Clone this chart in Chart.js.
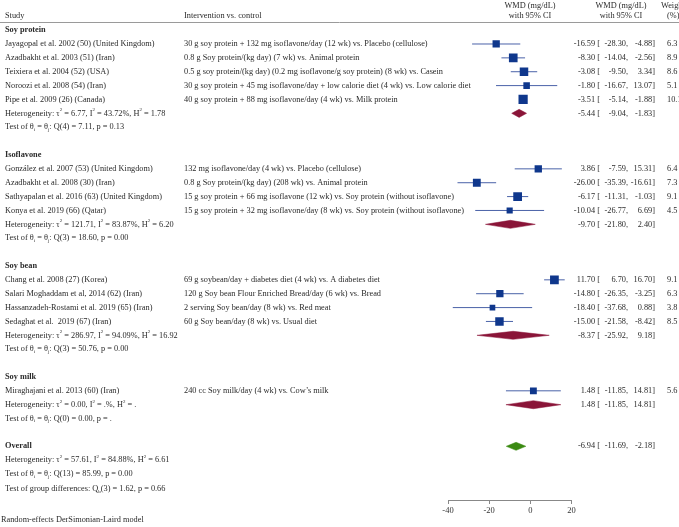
<!DOCTYPE html>
<html><head><meta charset="utf-8">
<script src="https://cdn.jsdelivr.net/npm/chart.js@4"></script>
<style>html,body{margin:0;padding:0;background:#fff}canvas{display:block}</style>
</head><body><canvas id="c" width="679" height="527"></canvas>
<script>
// ---------------- data ----------------
const groups = ['Soy protein', 'Isoflavone', 'Soy bean', 'Soy milk'];
const studyNames = [
  'Jayagopal et al. 2002 (50) (United Kingdom)',
  'Azadbakht et al. 2003 (51) (Iran)',
  'Teixiera et al. 2004 (52) (USA)',
  'Noroozi et al. 2008 (54) (Iran)',
  'Pipe et al. 2009 (26) (Canada)',
  'González et al. 2007 (53) (United Kingdom)',
  'Azadbakht et al. 2008 (30) (Iran)',
  'Sathyapalan et al. 2016 (63) (United Kingdom)',
  'Konya et al. 2019 (66) (Qatar)',
  'Chang et al. 2008 (27) (Korea)',
  'Salari Moghaddam et al, 2014 (62) (Iran)',
  'Hassanzadeh-Rostami et al. 2019 (65) (Iran)',
  'Sedaghat et al.  2019 (67) (Iran)',
  'Miraghajani et al. 2013 (60) (Iran)'
];
const studyGroup = [0,0,0,0,0, 1,1,1,1, 2,2,2,2, 3];
const interventions = [
  '30 g soy protein + 132 mg isoflavone/day (12 wk) vs. Placebo (cellulose)',
  '0.8 g Soy protein/(kg day) (7 wk) vs. Animal protein',
  '0.5 g soy protein/(kg day) (0.2 mg isoflavone/g soy protein) (8 wk) vs. Casein',
  '30 g soy protein + 45 mg isoflavone/day + low calorie diet (4 wk) vs. Low calorie diet',
  '40 g soy protein + 88 mg isoflavone/day (4 wk) vs. Milk protein',
  '132 mg isoflavone/day (4 wk) vs. Placebo (cellulose)',
  '0.8 g Soy protein/(kg day) (208 wk) vs. Animal protein',
  '15 g soy protein + 66 mg isoflavone (12 wk) vs. Soy protein (without isoflavone)',
  '15 g soy protein + 32 mg isoflavone/day (8 wk) vs. Soy protein (without isoflavone)',
  '69 g soybean/day + diabetes diet (4 wk) vs. A diabetes diet',
  '120 g Soy bean Flour Enriched Bread/day (6 wk) vs. Bread',
  '2 serving Soy bean/day (8 wk) vs. Red meat',
  '60 g Soy bean/day (8 wk) vs. Usual diet',
  '240 cc Soy milk/day (4 wk) vs. Cow\u2019s milk'
];
const wmd    = [-16.59, -8.30, -3.08, -1.80, -3.51,   3.86, -26.00, -6.17, -10.04,  11.70, -14.80, -18.40, -15.00,   1.48];
const ciLow  = [-28.30,-14.04, -9.50,-16.67, -5.14,  -7.59, -35.39,-11.31, -26.77,   6.70, -26.35, -37.68, -21.58, -11.85];
const ciHigh = [ -4.88, -2.56,  3.34, 13.07, -1.88,  15.31, -16.61, -1.03,   6.69,  16.70,  -3.25,   0.88,  -8.42,  14.81];
const weights = [6.3, 8.9, 8.6, 5.1, 10.1,  6.4, 7.3, 9.1, 4.5,  9.1, 6.3, 3.8, 8.5,  5.6];

const groupWmd  = [-5.44, -9.70, -8.37, 1.48];
const groupLow  = [-9.04, -21.80, -25.92, -11.85];
const groupHigh = [-1.83, 2.40, 9.18, 14.81];
const groupHet = [
  'Heterogeneity: \u03c4^{2} = 6.77, I^{2} = 43.72%, H^{2} = 1.78',
  'Heterogeneity: \u03c4^{2} = 121.71, I^{2} = 83.87%, H^{2} = 6.20',
  'Heterogeneity: \u03c4^{2} = 286.97, I^{2} = 94.09%, H^{2} = 16.92',
  'Heterogeneity: \u03c4^{2} = 0.00, I^{2} = .%, H^{2} = .'
];
const groupTest = [
  'Test of \u03b8_{i} = \u03b8_{j}: Q(4) = 7.11, p = 0.13',
  'Test of \u03b8_{i} = \u03b8_{j}: Q(3) = 18.60, p = 0.00',
  'Test of \u03b8_{i} = \u03b8_{j}: Q(3) = 50.76, p = 0.00',
  'Test of \u03b8_{i} = \u03b8_{j}: Q(0) = 0.00, p = .'
];
const overallWmd = -6.94, overallLow = -11.69, overallHigh = -2.18;
const overallHet = 'Heterogeneity: \u03c4^{2} = 57.61, I^{2} = 84.88%, H^{2} = 6.61';
const overallTest = 'Test of \u03b8_{i} = \u03b8_{j}: Q(13) = 85.99, p = 0.00';
const groupDiff = 'Test of group differences: Q_{b}(3) = 1.62, p = 0.66';
const footNote = 'Random-effects DerSimonian-Laird model';
const xTicks = [-40, -20, 0, 20];

// ---------------- row layout (derived from group structure) ----------------
const studyRow = [], headRow = [], hetRow = [], testRow = [];
let r = 1;
groups.forEach((g, gi) => {
  headRow[gi] = r++;
  studyGroup.forEach((sg, i) => { if (sg === gi) studyRow[i] = r++; });
  hetRow[gi] = r++;
  testRow[gi] = r++;
  r++;
});
const overallRow = r, overallHetRow = r + 1, overallTestRow = r + 2, groupDiffRow = r + 3;

// ---------------- styles ----------------
const FONT = '"Liberation Serif", "Times New Roman", serif';
const FS = 8.3;
const TXT = '#2a2a2a';
const SQ = '#0f378c', CI = '#4a62a8', DIA = '#8a1538', GREEN = '#3b8a12';
const DH = 0.29; // diamond half height (rows)

const datasets = [];
datasets.push({
  type: 'scatter',
  data: wmd.map((v, i) => ({x: v, y: studyRow[i]})),
  pointStyle: 'rect',
  pointRadius: weights.map(w => 2.05 * Math.sqrt(w)),
  backgroundColor: SQ, borderColor: SQ, borderWidth: 0
});
wmd.forEach((v, i) => {
  datasets.push({
    type: 'line',
    data: [{x: ciLow[i], y: studyRow[i]}, {x: ciHigh[i], y: studyRow[i]}],
    borderColor: CI, borderWidth: 1, pointRadius: 0, fill: false
  });
});
function diamond(lo, est, hi, row, color) {
  return {
    type: 'line',
    data: [{x: lo, y: row}, {x: est, y: row - DH}, {x: hi, y: row}, {x: est, y: row + DH}, {x: lo, y: row}],
    borderColor: color, backgroundColor: color, borderWidth: 0.5, pointRadius: 0,
    fill: 'shape', tension: 0
  };
}
groupWmd.forEach((v, gi) => datasets.push(diamond(groupLow[gi], v, groupHigh[gi], hetRow[gi], DIA)));
datasets.push(diamond(overallLow, overallWmd, overallHigh, overallRow, GREEN));

// ---------------- text plugin ----------------
function drawRich(ctx, str, x, y, size, bold) {
  const parts = str.split(/(\^\{[^}]*\}|_\{[^}]*\})/);
  let cx = x;
  parts.forEach(p => {
    if (!p) return;
    let t = p, fs = size, dy = 0;
    if (p.startsWith('^{')) { t = p.slice(2, -1); fs = size * 0.6; dy = -3.3; }
    else if (p.startsWith('_{')) { t = p.slice(2, -1); fs = size * 0.6; dy = 2.3; }
    ctx.font = (bold ? 'bold ' : '') + fs + 'px ' + FONT;
    ctx.textAlign = 'left';
    ctx.fillText(t, cx, y + dy);
    cx += ctx.measureText(t).width;
  });
}
function numBlock(ctx, est, lo, hi, y) {
  ctx.font = FS + 'px ' + FONT;
  ctx.textAlign = 'right';
  ctx.fillText(est.toFixed(2) + ' [', 600, y);
  ctx.fillText(lo.toFixed(2) + ',', 628, y);
  ctx.fillText(hi.toFixed(2) + ']', 655, y);
}
const textPlugin = {
  id: 'forestText',
  afterDraw(chart) {
    const ctx = chart.ctx, ys = chart.scales.y;
    const py = v => ys.getPixelForValue(v);
    ctx.save();
    ctx.fillStyle = TXT;
    ctx.textBaseline = 'middle';
    const hy1 = py(-0.78), hy2 = py(0);
    ctx.font = FS + 'px ' + FONT;
    ctx.textAlign = 'left';
    ctx.fillText('Study', 5, hy2);
    ctx.fillText('Intervention vs. control', 184, hy2);
    ctx.textAlign = 'center';
    ctx.fillText('WMD (mg/dL)', 530, hy1);
    ctx.fillText('with 95% CI', 530, hy2);
    ctx.fillText('WMD (mg/dL)', 621, hy1);
    ctx.fillText('with 95% CI', 621, hy2);
    ctx.textAlign = 'left';
    ctx.fillText('Weight', 661, hy1);
    ctx.fillText('(%)', 667, hy2);
    ctx.strokeStyle = '#9a9a9a';
    ctx.lineWidth = 1;
    ctx.beginPath();
    ctx.moveTo(0, Math.round(py(0.45)) + 0.5);
    ctx.lineTo(679, Math.round(py(0.45)) + 0.5);
    ctx.stroke();
    groups.forEach((g, gi) => {
      drawRich(ctx, g, 5, py(headRow[gi]), FS, true);
      drawRich(ctx, groupHet[gi], 5, py(hetRow[gi]), FS, false);
      drawRich(ctx, groupTest[gi], 5, py(testRow[gi]), FS, false);
      numBlock(ctx, groupWmd[gi], groupLow[gi], groupHigh[gi], py(hetRow[gi]));
    });
    studyNames.forEach((n, i) => {
      const y = py(studyRow[i]);
      drawRich(ctx, n, 5, y, FS, false);
      drawRich(ctx, interventions[i], 184, y, FS, false);
      numBlock(ctx, wmd[i], ciLow[i], ciHigh[i], y);
      ctx.textAlign = 'left';
      ctx.fillText(weights[i].toFixed(1), 667, y);
    });
    drawRich(ctx, 'Overall', 5, py(overallRow), FS, true);
    numBlock(ctx, overallWmd, overallLow, overallHigh, py(overallRow));
    drawRich(ctx, overallHet, 5, py(overallHetRow), FS, false);
    drawRich(ctx, overallTest, 5, py(overallTestRow), FS, false);
    drawRich(ctx, groupDiff, 5, py(groupDiffRow) + 1, FS, false);
    drawRich(ctx, footNote, 1, chart.chartArea.bottom + 20, FS, false);
    ctx.restore();
  }
};

new Chart(document.getElementById('c'), {
  type: 'scatter',
  data: {datasets},
  options: {
    responsive: false,
    animation: false,
    events: [],
    layout: {padding: {left: 448, right: 107.5, top: 16.24, bottom: 7}},
    plugins: {legend: {display: false}, tooltip: {enabled: false}},
    scales: {
      x: {
        type: 'linear', min: -40, max: 20, position: 'bottom',
        afterFit: s => { s.height = 20; },
        afterBuildTicks: s => { s.ticks = xTicks.map(v => ({value: v})); },
        ticks: {color: '#333', font: {family: FONT, size: 8.5}, padding: 2, maxRotation: 0},
        grid: {display: true, drawOnChartArea: false, drawTicks: true, tickLength: 4, color: '#888'},
        border: {display: true, color: '#888'}
      },
      y: {type: 'linear', min: 0, max: 34.87, reverse: true, display: false}
    }
  },
  plugins: [textPlugin]
});
</script>
</body></html>
